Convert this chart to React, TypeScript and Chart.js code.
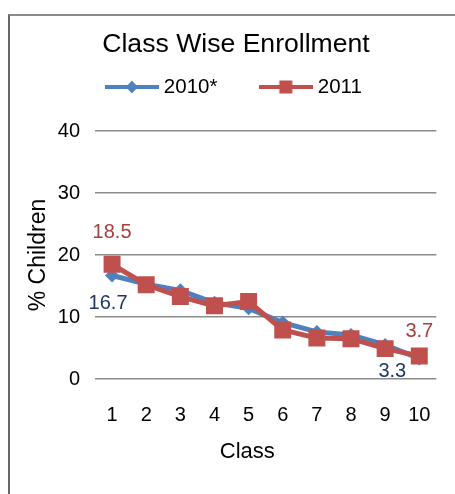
import React, { useEffect, useRef } from 'react';
import { Chart, registerables } from 'chart.js';

Chart.register(...registerables);

const categories = ['1', '2', '3', '4', '5', '6', '7', '8', '9', '10'];
const seriesNames = ['2010*', '2011'];
const values2010 = [16.7, 15.3, 14.3, 12.3, 11.4, 9.1, 7.6, 7.1, 5.5, 3.3];
const values2011 = [18.5, 15.2, 13.3, 11.8, 12.5, 7.9, 6.6, 6.5, 4.9, 3.7];
const yMin = 0;
const yMax = 40;
const yStep = 10;
const chartTitle = 'Class Wise Enrollment';
const xTitle = 'Class';
const yTitle = '% Children';

const FONT = "'Liberation Sans', Arial, sans-serif";
const BLUE = '#4F81BD';
const RED = '#C0504D';
const BLUE_LABEL = '#1F3864';
const RED_LABEL = '#A33F3C';

// which points carry a value label, and where the label sits relative to the point
const labelSpecs: Record<number, { index: number; dx: number; dy: number; color: string }[]> = {
  0: [
    { index: 0, dx: -4, dy: 28, color: BLUE_LABEL },
    { index: 9, dx: -27, dy: 13, color: BLUE_LABEL },
  ],
  1: [
    { index: 0, dx: 0, dy: -32, color: RED_LABEL },
    { index: 9, dx: 0, dy: -25, color: RED_LABEL },
  ],
};

const pointLabelPlugin = {
  id: 'pointLabels',
  afterDatasetsDraw(chart: any) {
    const ctx = chart.ctx;
    ctx.save();
    ctx.font = `20px ${FONT}`;
    ctx.textAlign = 'center';
    ctx.textBaseline = 'middle';
    chart.data.datasets.forEach((ds: any, di: number) => {
      const meta = chart.getDatasetMeta(di);
      (labelSpecs[di] || []).forEach((s) => {
        const el = meta.data[s.index];
        if (!el) return;
        ctx.fillStyle = s.color;
        ctx.fillText(String(ds.data[s.index]), el.x + s.dx, el.y + s.dy);
      });
    });
    ctx.restore();
  },
};

function makeLegendImage(color: string, shape: 'diamond' | 'square') {
  const c = document.createElement('canvas');
  c.width = 54;
  c.height = 16;
  const g = c.getContext('2d')!;
  g.strokeStyle = color;
  g.lineWidth = 4;
  g.beginPath();
  g.moveTo(0, 8);
  g.lineTo(54, 8);
  g.stroke();
  g.fillStyle = color;
  if (shape === 'diamond') {
    g.beginPath();
    g.moveTo(27, 1.5);
    g.lineTo(33, 8);
    g.lineTo(27, 14.5);
    g.lineTo(21, 8);
    g.closePath();
    g.fill();
  } else {
    g.fillRect(20.5, 1.5, 13, 13);
  }
  return c;
}

export default function App() {
  const ref = useRef<HTMLCanvasElement | null>(null);

  useEffect(() => {
    if (!ref.current) return;
    const legendImages = [makeLegendImage(BLUE, 'diamond'), makeLegendImage(RED, 'square')];
    const chart = new Chart(ref.current, {
      type: 'line',
      data: {
        labels: categories,
        datasets: [
          {
            label: seriesNames[0],
            data: values2010,
            borderColor: BLUE,
            backgroundColor: BLUE,
            borderWidth: 5,
            pointStyle: 'rectRot',
            pointRadius: 7,
            pointBorderWidth: 0,
            pointBackgroundColor: BLUE,
            tension: 0,
            order: 2,
          },
          {
            label: seriesNames[1],
            data: values2011,
            borderColor: RED,
            backgroundColor: RED,
            borderWidth: 5,
            pointStyle: 'rect',
            pointRadius: 12,
            pointBorderWidth: 0,
            pointBackgroundColor: RED,
            tension: 0,
            order: 1,
          },
        ],
      },
      options: {
        responsive: false,
        animation: false,
        layout: { padding: { left: 29, right: 12, top: 0, bottom: 29 } },
        plugins: {
          title: {
            display: true,
            text: chartTitle,
            color: '#000',
            font: { family: FONT, size: 26.6, weight: 'normal' },
            padding: { top: 29.04, bottom: -30.81 },
          },
          subtitle: {
            display: true,
            text: '',
            weight: 500,
            font: { size: 1 },
            padding: { top: 22.55, bottom: 0 },
          } as any,
          legend: {
            display: true,
            position: 'top',
            align: 'center',
            labels: {
              usePointStyle: true,
              pointStyleWidth: 43.5,
              padding: 46.6,
              color: '#000',
              font: { family: FONT, size: 20.5 },
              generateLabels: (c: any) => {
                const items = (Chart.defaults.plugins.legend.labels as any).generateLabels(c);
                return items
                  .sort((a: any, b: any) => a.datasetIndex - b.datasetIndex)
                  .map((it: any) => ({ ...it, pointStyle: legendImages[it.datasetIndex], fontColor: '#000' }));
              },
            },
          },
          tooltip: { enabled: false },
        },
        scales: {
          x: {
            type: 'category',
            offset: true,
            grid: { display: false, drawTicks: false },
            border: { display: false },
            ticks: { color: '#000', padding: 24, font: { family: FONT, size: 20 } },
            title: {
              display: true,
              text: xTitle + '\u00A0\u00A0\u00A0\u00A0\u00A0\u00A0',
              color: '#000',
              font: { family: FONT, size: 22 },
              padding: { top: 0, bottom: 0 },
            },
            afterFit: (s: any) => {
              s.height = 86;
            },
          },
          y: {
            min: yMin,
            max: yMax,
            ticks: { stepSize: yStep, color: '#000', padding: 15, font: { family: FONT, size: 20 } },
            grid: { color: '#8c8c8c', lineWidth: 1.5, drawTicks: false },
            border: { display: false },
            title: {
              display: true,
              text: yTitle,
              color: '#000',
              font: { family: FONT, size: 23 },
              padding: { top: -3.8, bottom: 0 },
            },
            afterFit: (s: any) => {
              s.width = 66;
            },
          },
        },
      } as any,
      plugins: [pointLabelPlugin],
    });
    return () => chart.destroy();
  }, []);

  return (
    <div style={{ position: 'fixed', left: 0, top: 0, width: 455, height: 494, background: '#fff', overflow: 'hidden' }}>
      <div
        style={{
          position: 'absolute',
          left: 8,
          top: 14,
          width: 470,
          height: 500,
          borderTop: '2px solid #8c8c8c',
          borderLeft: '2px solid #666',
          boxSizing: 'border-box',
        }}
      />
      <canvas ref={ref} width={455} height={494} style={{ position: 'absolute', left: 0, top: 0 }} />
    </div>
  );
}
